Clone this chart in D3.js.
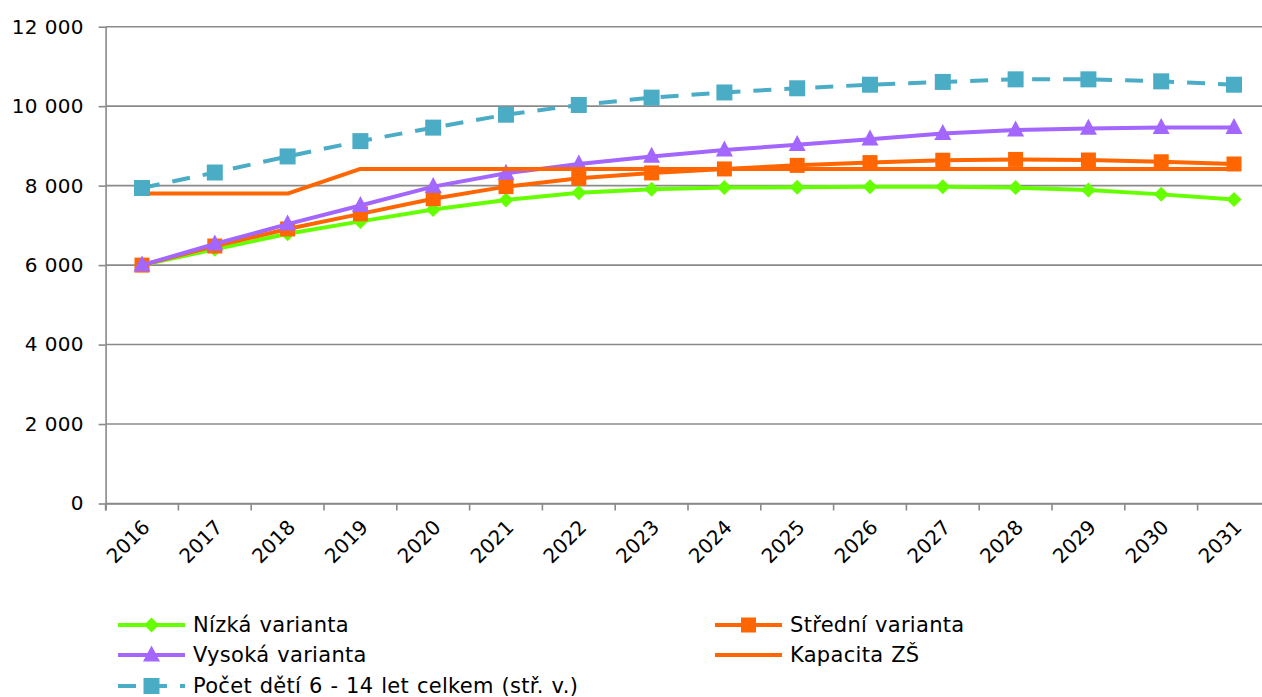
<!DOCTYPE html>
<html>
<head>
<meta charset="utf-8">
<script src="https://cdn.jsdelivr.net/npm/d3@7"></script>
<style>
  html, body { margin: 0; padding: 0; background: #fff; }
  svg { display: block; }
  text { font-family: "DejaVu Sans", Verdana, sans-serif; fill: #000; }
</style>
</head>
<body>
<svg id="chart" width="1262" height="697"></svg>
<script>
// ---- Data ----
const years = ["2016","2017","2018","2019","2020","2021","2022","2023","2024","2025","2026","2027","2028","2029","2030","2031"];
const nizka   = [6000, 6400, 6790, 7100, 7400, 7640, 7820, 7910, 7950, 7960, 7975, 7975, 7950, 7890, 7780, 7650];
const stredni = [6000, 6480, 6910, 7290, 7670, 7975, 8185, 8320, 8420, 8510, 8580, 8640, 8660, 8645, 8600, 8545];
const vysoka  = [6000, 6530, 7030, 7500, 7975, 8310, 8545, 8735, 8895, 9030, 9170, 9310, 9400, 9440, 9460, 9460];
const kapacita = [7800, 7800, 7800, 8420, 8420, 8420, 8420, 8420, 8420, 8420, 8420, 8420, 8420, 8420, 8420, 8420];
const pocet   = [7940, 8330, 8735, 9120, 9460, 9785, 10030, 10215, 10345, 10450, 10540, 10610, 10675, 10675, 10625, 10540];
const yTicks = [0, 2000, 4000, 6000, 8000, 10000, 12000];
const seriesNames = ["Nízká varianta", "Střední varianta", "Vysoká varianta", "Kapacita ZŠ", "Počet dětí 6 - 14 let celkem (stř. v.)"];

const series = [
  { name: seriesNames[0], values: nizka,    color: "#66ff00", marker: "diamond",  dash: null },
  { name: seriesNames[1], values: stredni,  color: "#ff6600", marker: "square",   dash: null },
  { name: seriesNames[2], values: vysoka,   color: "#a366ff", marker: "triangle", dash: null },
  { name: seriesNames[3], values: kapacita, color: "#ff6600", marker: null,       dash: null },
  { name: seriesNames[4], values: pocet,    color: "#4bacc6", marker: "bigsquare", dash: "18,13" }
];

// ---- Layout ----
const svg = d3.select("#chart");
const pLeft = 105.6, pRight = 1270.4, pTop = 26.7, pBottom = 503.5;

const x = d3.scaleBand().domain(years).range([pLeft, pRight]).padding(0);
const y = d3.scaleLinear().domain([0, 12000]).range([pBottom, pTop]);
const cx = d => x(d) + x.bandwidth() / 2;
const gridColor = "#8a8a8a";

// gridlines
svg.append("g").selectAll("line").data(yTicks).join("line")
  .attr("x1", pLeft).attr("x2", 1262)
  .attr("y1", d => y(d)).attr("y2", d => y(d))
  .attr("stroke", gridColor).attr("stroke-width", 1.6);

// y axis
const yAxis = svg.append("g").attr("transform", `translate(${pLeft},0)`)
  .call(d3.axisLeft(y).tickValues(yTicks).tickSize(7).tickPadding(15)
    .tickFormat(d => d3.format(",")(d).replace(/,/g, " ")));
yAxis.select(".domain").attr("stroke", gridColor).attr("stroke-width", 1.6)
  .attr("d", `M0.5,${pTop}V${pBottom + 7}`);
yAxis.selectAll(".tick line").attr("stroke", gridColor).attr("stroke-width", 1.6);
yAxis.selectAll(".tick text").attr("font-size", 20).attr("font-family", "DejaVu Sans").attr("fill", "#000")
  .attr("letter-spacing", 0.2).attr("word-spacing", 0.7);

// x axis
const xAxis = svg.append("g").attr("transform", `translate(0,${pBottom})`)
  .call(d3.axisBottom(x).tickSize(7).tickSizeOuter(0));
xAxis.select(".domain").attr("stroke", gridColor).attr("stroke-width", 1.6)
  .attr("d", `M${pLeft},0.5H1262`);
xAxis.selectAll(".tick line").attr("stroke", gridColor).attr("stroke-width", 1.6)
  .attr("x1", -x.bandwidth() / 2).attr("x2", -x.bandwidth() / 2);
xAxis.selectAll(".tick text")
  .attr("font-size", 20).attr("font-family", "DejaVu Sans").attr("fill", "#000")
  .attr("text-anchor", "end")
  .attr("dy", null).attr("y", null)
  .attr("transform", "translate(5,21) rotate(-45)")
  .attr("dominant-baseline", "middle");

// symbols
function drawMarker(g, type, color, px, py) {
  if (type === "diamond") {
    const s = 7.5;
    g.append("path").attr("d", `M${px},${py - s}L${px + s},${py}L${px},${py + s}L${px - s},${py}Z`).attr("fill", color);
  } else if (type === "square") {
    const s = 7.5;
    g.append("rect").attr("x", px - s).attr("y", py - s).attr("width", 2 * s).attr("height", 2 * s).attr("fill", color);
  } else if (type === "bigsquare") {
    const s = 8;
    g.append("rect").attr("x", px - s).attr("y", py - s).attr("width", 2 * s).attr("height", 2 * s).attr("fill", color);
  } else if (type === "triangle") {
    const w = 8.5, h = 16;
    g.append("path").attr("d", `M${px},${py - h * 0.6}L${px + w},${py + h * 0.4}L${px - w},${py + h * 0.4}Z`).attr("fill", color);
  }
}

const line = d3.line().x((d, i) => cx(years[i])).y(d => y(d));

series.forEach(s => {
  const g = svg.append("g");
  g.append("path").datum(s.values).attr("d", line)
    .attr("fill", "none").attr("stroke", s.color).attr("stroke-width", 4)
    .attr("stroke-linejoin", "round")
    .attr("stroke-dasharray", s.dash);
  if (s.marker) {
    s.values.forEach((v, i) => drawMarker(g, s.marker, s.color, cx(years[i]), y(v)));
  }
});

// legend
const legendPos = [
  { x: 118, y: 625 }, { x: 715, y: 625 },
  { x: 118, y: 655 }, { x: 715, y: 655 },
  { x: 118, y: 686 }
];
series.forEach((s, i) => {
  const p = legendPos[i];
  const g = svg.append("g");
  g.append("line").attr("x1", p.x).attr("x2", p.x + 67).attr("y1", p.y).attr("y2", p.y)
    .attr("stroke", s.color).attr("stroke-width", 4).attr("stroke-dasharray", s.dash);
  if (s.marker) drawMarker(g, s.marker, s.color, p.x + 33.5, p.y);
  g.append("text").attr("x", p.x + 75).attr("y", p.y).attr("dy", "0.35em")
    .attr("font-size", 21).attr("letter-spacing", 0.3).attr("word-spacing", 0.8).text(s.name);
});
</script>
</body>
</html>
